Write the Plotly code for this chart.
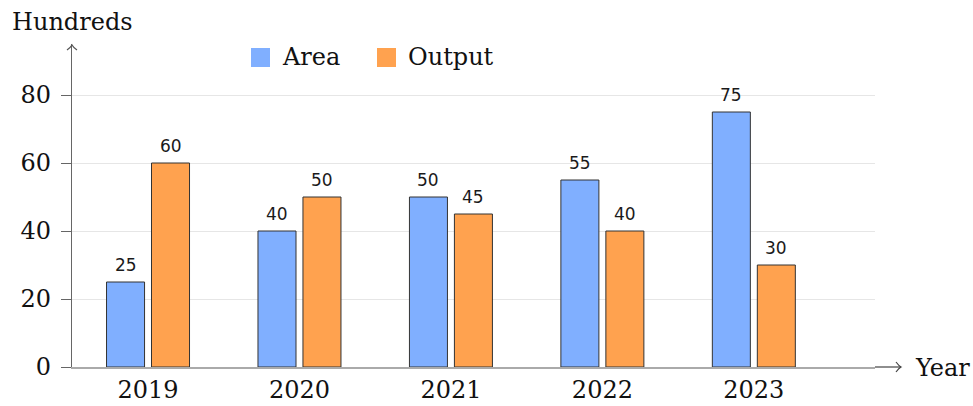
import plotly.graph_objects as go

# ---- data ----
years = ["2019", "2020", "2021", "2022", "2023"]
area = [25, 40, 50, 55, 75]
output = [60, 50, 45, 40, 30]
series_names = ["Area", "Output"]
y_ticks = [0, 20, 40, 60, 80]
y_axis_title = "Hundreds"
x_axis_title = "Year"

# ---- style ----
W, H = 973, 406
ML, MR, MT, MB = 72, 98, 44, 39
PW, PH = W - ML - MR, H - MT - MB
BLUE = "#80AFFF"
ORANGE = "#FFA24F"
EDGE = "#333333"
SERIF = "DejaVu Serif"
SANS = "DejaVu Sans"
BW = 0.251
GAP = 0.046

def px(x):
    return (x - ML) / PW

def py(y):
    return (H - MB - y) / PH

xs = list(range(len(years)))
fig = go.Figure()
fig.add_trace(go.Bar(x=xs, y=area, name=series_names[0], width=BW, offset=-BW - GAP / 2,
                     marker=dict(color=BLUE, line=dict(color=EDGE, width=1)), showlegend=False))
fig.add_trace(go.Bar(x=xs, y=output, name=series_names[1], width=BW, offset=GAP / 2,
                     marker=dict(color=ORANGE, line=dict(color=EDGE, width=1)), showlegend=False))

annotations = []
for i, v in enumerate(area):
    annotations.append(dict(x=i - BW / 2 - GAP / 2, y=v, xref="x", yref="y", text=str(v),
                            showarrow=False, yanchor="bottom", yshift=5,
                            font=dict(family=SANS, size=17, color="#1a1a1a")))
for i, v in enumerate(output):
    annotations.append(dict(x=i + BW / 2 + GAP / 2, y=v, xref="x", yref="y", text=str(v),
                            showarrow=False, yanchor="bottom", yshift=5,
                            font=dict(family=SANS, size=17, color="#1a1a1a")))

# axis titles
annotations.append(dict(x=px(10), y=py(22), xref="paper", yref="paper", text=y_axis_title,
                        showarrow=False, xanchor="left", yanchor="middle",
                        font=dict(family=SERIF, size=24, color="#111")))
annotations.append(dict(x=px(913), y=py(368), xref="paper", yref="paper", text=x_axis_title,
                        showarrow=False, xanchor="left", yanchor="middle",
                        font=dict(family=SERIF, size=24, color="#111")))

# manual legend
shapes = []
legend_items = [(series_names[0], BLUE, 251, 280), (series_names[1], ORANGE, 377, 406)]
for name, col, sx, tx in legend_items:
    shapes.append(dict(type="rect", xref="paper", yref="paper",
                       x0=px(sx), x1=px(sx + 19), y0=py(48), y1=py(67),
                       fillcolor=col, line=dict(width=0)))
    annotations.append(dict(x=px(tx), y=py(57), xref="paper", yref="paper", text=name,
                            showarrow=False, xanchor="left", yanchor="middle",
                            font=dict(family=SERIF, size=24, color="#111")))

# axis arrows
AR = "#444444"
shapes.append(dict(type="line", xref="paper", yref="paper", x0=px(875), x1=px(901),
                   y0=py(367), y1=py(367), line=dict(color=AR, width=1.2)))
shapes.append(dict(type="path", xref="paper", yref="paper",
                   path=f"M {px(896)},{py(362)} Q {px(899)},{py(366)} {px(901)},{py(367)} "
                        f"Q {px(899)},{py(368)} {px(896)},{py(372)}",
                   line=dict(color=AR, width=1.2)))
shapes.append(dict(type="path", xref="paper", yref="paper",
                   path=f"M {px(67)},{py(50)} Q {px(71)},{py(47)} {px(72)},{py(45)} "
                        f"Q {px(73)},{py(47)} {px(77)},{py(50)}",
                   line=dict(color="#555", width=1.2)))

fig.update_layout(
    width=W, height=H,
    margin=dict(l=ML, r=MR, t=MT, b=MB, autoexpand=False),
    paper_bgcolor="white", plot_bgcolor="white",
    barmode="overlay",
    showlegend=False,
    annotations=annotations,
    shapes=shapes,
    xaxis=dict(range=[-0.502, 4.80], tickvals=xs, ticktext=years, ticks="",
               showgrid=False, zeroline=False, showline=True, linecolor="#aaaaaa", linewidth=1.5,
               automargin=False,
               tickfont=dict(family=SERIF, size=24, color="#111"), fixedrange=True),
    yaxis=dict(range=[0, 95], tickvals=y_ticks, ticks="outside", ticklen=10, tickcolor="#666",
               showgrid=True, gridcolor="#e6e6e6", gridwidth=1.2, zeroline=False,
               showline=True, linecolor="#666", linewidth=1.2, automargin=False,
               ticklabelstandoff=5,
               tickfont=dict(family=SERIF, size=24, color="#111"), fixedrange=True),
)

fig.write_html("out.html")
